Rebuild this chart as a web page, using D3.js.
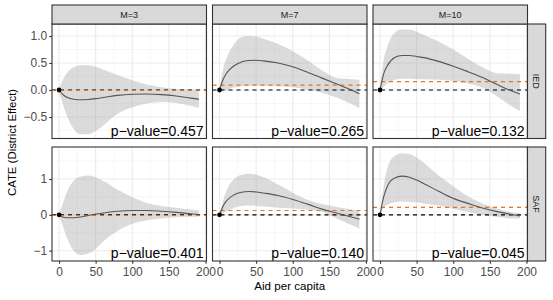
<!DOCTYPE html>
<html><head><meta charset="utf-8">
<script src="https://cdn.jsdelivr.net/npm/d3@7"></script>
<style>
body{margin:0;background:#fff;}
svg{display:block;font-family:"Liberation Sans",Arial,Helvetica,sans-serif;}
</style></head>
<body><svg id="chart" width="553" height="300"></svg>
<script>
// ---- data ----
const columns = ["M=3", "M=7", "M=10"];
const rows = ["IED", "SAF"];
const xGrid = [0, 5, 10, 20, 30, 40, 50, 60, 80, 100, 120, 140, 160, 180, 191];

const fitIED3 = [0, -0.08, -0.13, -0.17, -0.18, -0.175, -0.16, -0.14, -0.1, -0.08, -0.075, -0.085, -0.11, -0.15, -0.17];
const upIED3  = [0.02, 0.18, 0.3, 0.42, 0.46, 0.46, 0.43, 0.38, 0.28, 0.18, 0.1, 0.05, 0.02, 0.01, 0.0];
const loIED3  = [-0.04, -0.25, -0.45, -0.72, -0.82, -0.82, -0.76, -0.66, -0.44, -0.32, -0.25, -0.22, -0.24, -0.29, -0.33];

const fitIED7 = [0, 0.2, 0.32, 0.45, 0.52, 0.545, 0.55, 0.54, 0.5, 0.43, 0.33, 0.22, 0.11, 0.0, -0.07];
const upIED7  = [0.02, 0.4, 0.6, 0.85, 0.98, 1.0, 0.99, 0.95, 0.85, 0.72, 0.55, 0.36, 0.22, 0.2, 0.19];
const loIED7  = [-0.04, -0.02, 0.0, 0.05, 0.07, 0.08, 0.08, 0.08, 0.07, 0.05, 0.01, -0.05, -0.14, -0.26, -0.34];

const fitIED10 = [0, 0.3, 0.45, 0.6, 0.64, 0.64, 0.62, 0.6, 0.53, 0.44, 0.34, 0.23, 0.1, -0.02, -0.075];
const upIED10  = [0.02, 0.55, 0.8, 1.06, 1.12, 1.12, 1.08, 1.02, 0.9, 0.75, 0.58, 0.42, 0.31, 0.3, 0.29];
const loIED10  = [-0.03, 0.06, 0.12, 0.19, 0.21, 0.21, 0.2, 0.2, 0.19, 0.17, 0.12, 0.04, -0.12, -0.3, -0.39];

const fitSAF3 = [0, -0.06, -0.08, -0.08, -0.06, -0.02, 0.02, 0.05, 0.1, 0.12, 0.12, 0.1, 0.07, 0.03, 0.01];
const upSAF3  = [0.02, 0.3, 0.6, 0.95, 1.07, 1.1, 1.05, 0.95, 0.7, 0.5, 0.33, 0.25, 0.2, 0.15, 0.12];
const loSAF3  = [-0.03, -0.3, -0.6, -1.0, -1.12, -1.08, -0.95, -0.75, -0.45, -0.25, -0.15, -0.1, -0.07, -0.05, -0.05];

const fitSAF7 = [0, 0.25, 0.4, 0.56, 0.63, 0.65, 0.64, 0.61, 0.54, 0.43, 0.3, 0.16, 0.05, -0.06, -0.12];
const upSAF7  = [0.02, 0.4, 0.7, 1.0, 1.12, 1.15, 1.12, 1.05, 0.85, 0.62, 0.42, 0.3, 0.22, 0.15, 0.12];
const loSAF7  = [-0.03, 0.05, 0.1, 0.2, 0.25, 0.26, 0.25, 0.23, 0.2, 0.18, 0.15, 0.08, -0.1, -0.28, -0.38];

const fitSAF10 = [0, 0.5, 0.8, 1.03, 1.08, 1.05, 0.97, 0.87, 0.66, 0.46, 0.32, 0.19, 0.09, 0.01, -0.03];
const upSAF10  = [0.02, 0.8, 1.3, 1.65, 1.72, 1.7, 1.6, 1.45, 1.1, 0.8, 0.52, 0.32, 0.18, 0.07, 0.04];
const loSAF10  = [-0.03, 0.2, 0.28, 0.35, 0.37, 0.36, 0.35, 0.32, 0.26, 0.17, 0.08, 0.0, -0.06, -0.1, -0.1];

const ateIED = [-0.01, 0.09, 0.155];
const ateSAF = [-0.02, 0.12, 0.21];
const pIED = ["0.457", "0.265", "0.132"];
const pSAF = ["0.401", "0.140", "0.045"];

const xTicks = [0, 50, 100, 150, 200];
const xMinor = [25, 75, 125, 175];
const yTicksIED = [-0.5, 0.0, 0.5, 1.0];
const yMinorIED = [-0.75, -0.25, 0.25, 0.75];
const yTicksSAF = [-1, 0, 1];
const yMinorSAF = [-0.5, 0.5, 1.5];

const panels = [
  [{fit: fitIED3, up: upIED3, lo: loIED3, ate: ateIED[0], p: pIED[0]},
   {fit: fitIED7, up: upIED7, lo: loIED7, ate: ateIED[1], p: pIED[1]},
   {fit: fitIED10, up: upIED10, lo: loIED10, ate: ateIED[2], p: pIED[2]}],
  [{fit: fitSAF3, up: upSAF3, lo: loSAF3, ate: ateSAF[0], p: pSAF[0]},
   {fit: fitSAF7, up: upSAF7, lo: loSAF7, ate: ateSAF[1], p: pSAF[1]},
   {fit: fitSAF10, up: upSAF10, lo: loSAF10, ate: ateSAF[2], p: pSAF[2]}]
];

// ---- layout ----
const svg = d3.select("#chart");
const colX = [52, 212.5, 373];
const panelW = 154.5;
const rowY = [24, 147];
const panelH = [114.5, 114];
const yDomains = [[-0.898, 1.222], [-1.288, 1.894]];
const yTicks = [yTicksIED, yTicksSAF];
const yMinor = [yMinorIED, yMinorSAF];
const fmtY = [v => d3.format(".1f")(v).replace("-", "\u2212"), v => d3.format("d")(v).replace("-", "\u2212")];

const textCol = "#4d4d4d";
const frameCol = "#333333";

rows.forEach((rName, ri) => {
  const y = d3.scaleLinear().domain(yDomains[ri]).range([rowY[ri] + panelH[ri], rowY[ri]]);
  columns.forEach((cName, ci) => {
    const x = d3.scaleLinear().domain([-9.6, 201.4]).range([colX[ci], colX[ci] + panelW]);
    const d = panels[ri][ci];
    const g = svg.append("g");
    const x0 = colX[ci], x1 = colX[ci] + panelW, y0 = rowY[ri], y1 = rowY[ri] + panelH[ri];
    g.append("rect").attr("x", x0).attr("y", y0).attr("width", panelW).attr("height", panelH[ri]).attr("fill", "#fff");
    // minor grid
    xMinor.forEach(v => g.append("line").attr("x1", x(v)).attr("x2", x(v)).attr("y1", y0).attr("y2", y1).attr("stroke", "#f2f2f2").attr("stroke-width", 0.6));
    yMinor[ri].forEach(v => { if (y(v) > y0 && y(v) < y1) g.append("line").attr("x1", x0).attr("x2", x1).attr("y1", y(v)).attr("y2", y(v)).attr("stroke", "#f2f2f2").attr("stroke-width", 0.6); });
    // major grid
    xTicks.forEach(v => { if (x(v) <= x1) g.append("line").attr("x1", x(v)).attr("x2", x(v)).attr("y1", y0).attr("y2", y1).attr("stroke", "#ebebeb").attr("stroke-width", 1.1); });
    yTicks[ri].forEach(v => g.append("line").attr("x1", x0).attr("x2", x1).attr("y1", y(v)).attr("y2", y(v)).attr("stroke", "#ebebeb").attr("stroke-width", 1.1));

    const pts = xGrid.map((xv, i) => ({x: xv, f: d.fit[i], u: d.up[i], l: d.lo[i]}));
    const clipId = "clip" + ri + ci;
    svg.append("clipPath").attr("id", clipId).append("rect").attr("x", x0).attr("y", y0).attr("width", panelW).attr("height", panelH[ri]);
    const inner = g.append("g").attr("clip-path", `url(#${clipId})`);
    inner.append("path").datum(pts)
      .attr("d", d3.area().x(p => x(p.x)).y0(p => y(p.l)).y1(p => y(p.u)).curve(d3.curveMonotoneX))
      .attr("fill", "#999").attr("fill-opacity", 0.35);
    inner.append("line").attr("x1", x0).attr("x2", x1).attr("y1", y(0)).attr("y2", y(0))
      .attr("stroke", "#000").attr("stroke-width", 1.1).attr("stroke-dasharray", "4,4");
    inner.append("line").attr("x1", x0).attr("x2", x1).attr("y1", y(d.ate)).attr("y2", y(d.ate))
      .attr("stroke", "#e8711d").attr("stroke-width", 1.1).attr("stroke-dasharray", "4,4");
    inner.append("path").datum(pts)
      .attr("d", d3.line().x(p => x(p.x)).y(p => y(p.f)).curve(d3.curveMonotoneX))
      .attr("fill", "none").attr("stroke", "#555").attr("stroke-width", 1.1);
    inner.append("circle").attr("cx", x(0)).attr("cy", y(0)).attr("r", 2.4).attr("fill", "#000");
    // p-value
    g.append("text").attr("x", x1 - 3).attr("y", y1 - 3).attr("text-anchor", "end")
      .attr("font-size", 14).attr("fill", "#000").text("p\u2212value=" + d.p);
    // frame
    g.append("rect").attr("x", x0).attr("y", y0).attr("width", panelW).attr("height", panelH[ri])
      .attr("fill", "none").attr("stroke", frameCol).attr("stroke-width", 1.1);

    // y axis on first column
    if (ci === 0) {
      const ax = g.append("g").attr("transform", `translate(${x0},0)`)
        .call(d3.axisLeft(y).tickValues(yTicks[ri]).tickFormat(fmtY[ri]).tickSize(2.75).tickPadding(2));
      ax.select(".domain").remove();
      ax.selectAll(".tick line").attr("stroke", frameCol).attr("stroke-width", 1.1);
      ax.selectAll(".tick text").attr("fill", textCol).attr("font-size", 12).attr("font-family", "Liberation Sans, Arial, sans-serif");
    }
    // x axis on bottom row
    if (ri === 1) {
      const ax = g.append("g").attr("transform", `translate(0,${y1})`)
        .call(d3.axisBottom(x).tickValues(xTicks).tickSize(2.75).tickPadding(3.5));
      ax.select(".domain").remove();
      ax.selectAll(".tick line").attr("stroke", frameCol).attr("stroke-width", 1.1);
      ax.selectAll(".tick text").attr("fill", textCol).attr("font-size", 12).attr("font-family", "Liberation Sans, Arial, sans-serif");
    }
    // top strips
    if (ri === 0) {
      g.append("rect").attr("x", x0).attr("y", 5).attr("width", panelW).attr("height", y0 - 5)
        .attr("fill", "#d9d9d9").attr("stroke", frameCol).attr("stroke-width", 1.1);
      g.append("text").attr("x", (x0 + x1) / 2).attr("y", (5 + y0) / 2).attr("dy", "0.35em")
        .attr("text-anchor", "middle").attr("font-size", 9).attr("fill", "#1a1a1a").text(cName);
    }
    // right strips
    if (ci === 2) {
      g.append("rect").attr("x", x1).attr("y", y0).attr("width", 18.2).attr("height", panelH[ri])
        .attr("fill", "#d9d9d9").attr("stroke", frameCol).attr("stroke-width", 1.1);
      const cx = x1 + 9.1, cy = (y0 + y1) / 2;
      g.append("text").attr("transform", `translate(${cx},${cy}) rotate(90)`).attr("dy", "0.35em")
        .attr("text-anchor", "middle").attr("font-size", 9).attr("fill", "#1a1a1a").text(rName);
    }
  });
});

// axis titles
svg.append("text").attr("transform", `translate(15.5,${(24 + 261) / 2}) rotate(-90)`)
  .attr("text-anchor", "middle").attr("font-size", 11.4).attr("fill", "#000").text("CATE (District Effect)");
svg.append("text").attr("x", (52 + 527.5) / 2).attr("y", 290)
  .attr("text-anchor", "middle").attr("font-size", 11.6).attr("fill", "#000").text("Aid per capita");
</script></body></html>
